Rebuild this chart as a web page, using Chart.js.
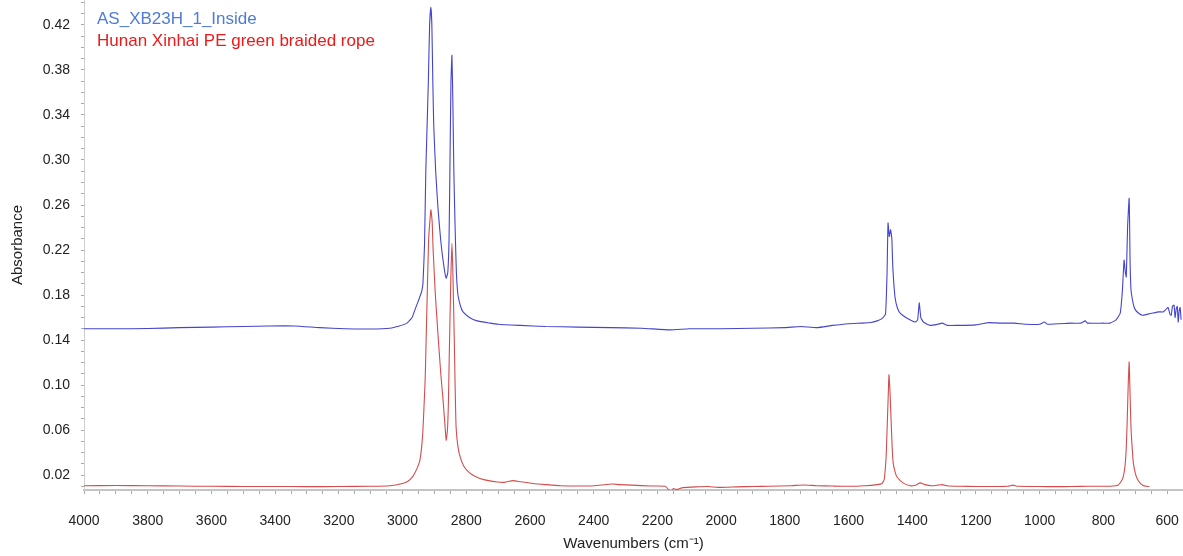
<!DOCTYPE html>
<html>
<head>
    <meta charset="utf-8">
    <script src="https://cdn.jsdelivr.net/npm/chart.js"></script>
    <title>FTIR spectra</title>
    <style>
        html, body { margin: 0; padding: 0; background: #fff; }
        #wrap { width: 1183px; height: 556px; }
    </style>
</head>
<body>
<div id="wrap"><canvas id="chart"></canvas></div>
<script>
    // AS_XB23H_1_Inside
    const sampleWn = [4000, 3900, 3800, 3700, 3600, 3500, 3420, 3340, 3260, 3180, 3100, 3040, 3010, 2986, 2970, 2961, 2950, 2945, 2940, 2936,
        2931, 2927, 2923, 2919, 2915, 2911, 2908, 2905, 2902, 2896, 2889, 2880, 2870, 2863, 2858, 2854, 2851, 2848, 2845, 2842,
        2839, 2835, 2831, 2826, 2818, 2810, 2790, 2766, 2725, 2700, 2630, 2550, 2450, 2350, 2250, 2160, 2100, 2000, 1900, 1800,
        1750, 1700, 1650, 1600, 1560, 1530, 1510, 1495, 1484, 1479, 1476, 1472, 1468, 1464, 1461, 1454, 1446, 1438, 1420, 1407,
        1390, 1383, 1378, 1373, 1365, 1344, 1320, 1306, 1290, 1259, 1200, 1170, 1160, 1120, 1080, 1040, 1000, 985, 975, 900,
        870, 857, 850, 800, 779, 760, 747, 740, 735, 731, 728, 724, 719, 716, 713, 706, 700, 690, 678, 660,
        644, 625, 612, 604, 597, 591, 587, 583, 578, 575, 571, 568, 565, 562, 559, 556]
    const sampleAbs = [0.150, 0.150, 0.1502, 0.151, 0.1515, 0.152, 0.1525, 0.1525, 0.151, 0.150, 0.1498, 0.1505, 0.1525, 0.155, 0.160, 0.167, 0.175, 0.179, 0.183, 0.190,
        0.225, 0.290, 0.330, 0.370, 0.420, 0.436, 0.420, 0.370, 0.330, 0.290, 0.258, 0.228, 0.205, 0.195, 0.200, 0.230, 0.300, 0.370, 0.393, 0.350,
        0.290, 0.240, 0.200, 0.180, 0.170, 0.165, 0.160, 0.157, 0.155, 0.154, 0.153, 0.152, 0.1515, 0.151, 0.1505, 0.149, 0.150, 0.150, 0.1505, 0.151,
        0.152, 0.151, 0.153, 0.1545, 0.155, 0.1555, 0.157, 0.159, 0.163, 0.200, 0.244, 0.232, 0.238, 0.230, 0.205, 0.178, 0.168, 0.164, 0.160, 0.158,
        0.156, 0.158, 0.173, 0.160, 0.156, 0.153, 0.154, 0.155, 0.153, 0.153, 0.1535, 0.155, 0.1555, 0.155, 0.155, 0.154, 0.154, 0.156, 0.154, 0.155,
        0.155, 0.157, 0.155, 0.155, 0.155, 0.158, 0.164, 0.185, 0.211, 0.200, 0.196, 0.240, 0.266, 0.208, 0.184, 0.172, 0.167, 0.164, 0.162, 0.163,
        0.164, 0.165, 0.165, 0.167, 0.169, 0.163, 0.162, 0.170, 0.171, 0.160, 0.168, 0.170, 0.156, 0.166, 0.169, 0.158]

    // Hunan Xinhai PE green braided rope
    const ropeWn = [4000, 3900, 3800, 3700, 3600, 3500, 3400, 3300, 3200, 3100, 3040, 3000, 2983, 2970, 2961, 2950, 2945, 2940, 2936, 2932,
        2929, 2926, 2923, 2918, 2911, 2907, 2904, 2897, 2889, 2880, 2873, 2867, 2863, 2859, 2856, 2854, 2851, 2848, 2845, 2842,
        2838, 2835, 2832, 2826, 2819, 2808, 2797, 2780, 2757, 2730, 2703, 2680, 2653, 2630, 2590, 2550, 2505, 2450, 2400, 2340,
        2320, 2280, 2220, 2175, 2165, 2157, 2150, 2140, 2120, 2080, 2040, 2010, 1980, 1950, 1900, 1850, 1780, 1740, 1700, 1650,
        1600, 1550, 1510, 1495, 1488, 1482, 1479, 1476, 1473, 1470, 1466, 1463, 1460, 1453, 1447, 1429, 1407, 1390, 1375, 1360,
        1340, 1320, 1306, 1290, 1250, 1200, 1150, 1100, 1083, 1070, 1000, 950, 900, 850, 800, 770, 754, 745, 738, 732,
        728, 725, 722, 719, 716, 713, 709, 706, 700, 694, 685, 675, 665, 656]
    const ropeAbs = [0.0105, 0.0107, 0.0105, 0.0102, 0.0100, 0.0098, 0.0098, 0.0097, 0.0098, 0.0100, 0.0105, 0.0125, 0.0145, 0.018, 0.022, 0.029, 0.034, 0.045, 0.060, 0.085,
        0.105, 0.140, 0.175, 0.230, 0.2556, 0.245, 0.220, 0.180, 0.146, 0.110, 0.087, 0.065, 0.051, 0.060, 0.085, 0.116, 0.160, 0.200, 0.226, 0.200,
        0.146, 0.100, 0.063, 0.045, 0.036, 0.028, 0.024, 0.020, 0.017, 0.015, 0.0138, 0.0135, 0.0150, 0.0140, 0.0125, 0.0115, 0.0105, 0.0102, 0.0105, 0.0120,
        0.0115, 0.0110, 0.0102, 0.0100, 0.0070, 0.0058, 0.0080, 0.0070, 0.0088, 0.0095, 0.0098, 0.0090, 0.0092, 0.0095, 0.0098, 0.0100, 0.0105, 0.0112, 0.0105, 0.0102,
        0.0100, 0.0105, 0.0115, 0.0125, 0.016, 0.036, 0.060, 0.085, 0.109, 0.095, 0.066, 0.045, 0.031, 0.022, 0.018, 0.013, 0.0105, 0.0110, 0.0130, 0.0115,
        0.0105, 0.0110, 0.0115, 0.0105, 0.0100, 0.0098, 0.0098, 0.0100, 0.0110, 0.0100, 0.0098, 0.0097, 0.0098, 0.0100, 0.0100, 0.0102, 0.0110, 0.014, 0.018, 0.028,
        0.045, 0.070, 0.100, 0.1204, 0.090, 0.060, 0.042, 0.031, 0.022, 0.017, 0.013, 0.0107, 0.010, 0.0098]

    const seriesNames = ['AS_XB23H_1_Inside', 'Hunan Xinhai PE green braided rope']
    const lineColors = ['#4444d0', '#d44c4c']
    const nameColors = ['#4f7bd6', '#f01818']

    // y ticks every 0.01, labelled at 0.02, 0.06, ... 0.42
    const absLabels = [0.02, 0.06, 0.10, 0.14, 0.18, 0.22, 0.26, 0.30, 0.34, 0.38, 0.42]
    // x ticks every 50 cm-1, labelled every 200
    const wnLabels = [4000, 3800, 3600, 3400, 3200, 3000, 2800, 2600, 2400, 2200, 2000, 1800, 1600, 1400, 1200, 1000, 800, 600]

    const toPoints = (xs, ys) => xs.map((x, i) => ({ x: x, y: ys[i] }))

    Chart.defaults.font.family = '"Liberation Sans", Arial, sans-serif'
    Chart.defaults.color = '#222'

    // series names written in the top left corner of the plot
    const nameTags = {
        id: 'nameTags',
        afterDraw(chart) {
            const ctx = chart.ctx
            ctx.save()
            ctx.font = '17px "Liberation Sans", Arial, sans-serif'
            ctx.textBaseline = 'middle'
            ctx.textAlign = 'left'
            seriesNames.forEach((name, i) => {
                ctx.fillStyle = nameColors[i]
                ctx.fillText(name, chart.chartArea.left + 13, 19 + i * 22)
            })
            ctx.restore()
        }
    }

    new Chart(document.getElementById('chart'), {
        type: 'line',
        data: {
            datasets: [{
                label: seriesNames[0],
                data: toPoints(sampleWn, sampleAbs),
                borderColor: lineColors[0],
                borderWidth: 1.1,
                pointRadius: 0,
                tension: 0.15
            }, {
                label: seriesNames[1],
                data: toPoints(ropeWn, ropeAbs),
                borderColor: lineColors[1],
                borderWidth: 1.1,
                pointRadius: 0,
                tension: 0.15
            }]
        },
        plugins: [nameTags],
        options: {
            responsive: true,
            maintainAspectRatio: false,
            animation: false,
            layout: { padding: 0 },
            plugins: {
                legend: { display: false },
                tooltip: { enabled: false }
            },
            scales: {
                x: {
                    type: 'linear',
                    reverse: true,
                    min: 550,
                    max: 4000,
                    afterFit(scale) { scale.height = 66 },
                    afterBuildTicks(scale) {
                        const t = []
                        for (let v = 600; v <= 4000; v += 50) t.push({ value: v })
                        scale.ticks = t
                    },
                    ticks: {
                        autoSkip: false,
                        maxRotation: 0,
                        padding: 19,
                        font: { size: 14 },
                        color: '#222',
                        callback: v => wnLabels.includes(v) ? String(v) : ''
                    },
                    grid: {
                        drawOnChartArea: false,
                        tickLength: 4,
                        color: '#aaa'
                    },
                    border: { color: '#c4c4c4', width: 2 },
                    title: {
                        display: true,
                        text: 'Wavenumbers (cm⁻¹)',
                        font: { size: 15 },
                        color: '#222',
                        padding: { top: 0, bottom: 3 }
                    }
                },
                y: {
                    min: 0.0067,
                    max: 0.4422,
                    afterFit(scale) {
                        scale.width = 84
                        scale.paddingTop = 0
                        scale.paddingBottom = 0
                    },
                    afterBuildTicks(scale) {
                        const t = []
                        for (let k = 1; k <= 44; k++) t.push({ value: k / 100 })
                        scale.ticks = t
                    },
                    ticks: {
                        autoSkip: false,
                        padding: 11,
                        font: { size: 14 },
                        color: '#222',
                        callback: v => absLabels.some(a => Math.abs(a - v) < 1e-6) ? v.toFixed(2) : ''
                    },
                    grid: {
                        drawOnChartArea: false,
                        tickLength: 3,
                        color: '#aaa'
                    },
                    border: { color: '#cfcfcf', width: 1, dash: [1, 1] },
                    title: {
                        display: true,
                        text: 'Absorbance',
                        font: { size: 15 },
                        color: '#222',
                        padding: { top: 9, bottom: 0 }
                    }
                }
            }
        }
    })
</script>
</body>
</html>
